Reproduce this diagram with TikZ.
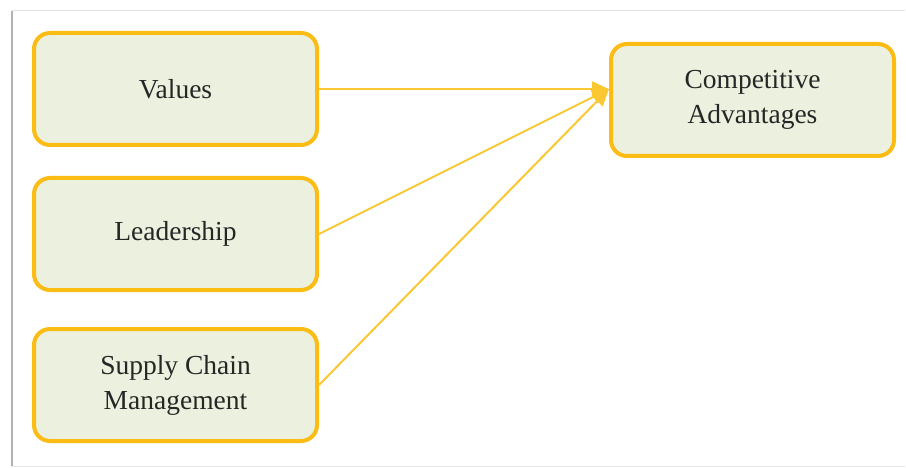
\documentclass[tikz,border=0pt]{standalone}
\usepackage{fontspec}
\setmainfont{Liberation Serif}
\usetikzlibrary{arrows.meta}
\definecolor{boxgold}{HTML}{FBBC14}
\definecolor{boxfill}{HTML}{EBF1DE}
\definecolor{linegold}{HTML}{FBC834}
\begin{document}
\begin{tikzpicture}[x=1pt,y=-1pt,
  box/.style={draw=boxgold, line width=4pt, fill=boxfill, rounded corners=16pt,
    minimum width=283pt, minimum height=112pt, align=center, inner sep=0pt,
    font=\fontsize{27.5}{35}\selectfont, text=black!85},
  link/.style={draw=linegold, line width=2pt, -{Triangle[length=17pt,width=15pt]}}]
\useasboundingbox (0,0) rectangle (906,468);
\fill[white] (0,0) rectangle (906,468);
\draw[black!12, line width=1pt] (12,11) -- (905,11);
\draw[black!10, line width=1pt] (12,466) -- (905,466);
\draw[black!30, line width=2.5pt] (12,11) -- (12,466);
\node[box] (val) at (175.5,89) {Values};
\node[box] (lead) at (175.5,234) {Leadership};
\node[box] (scm) at (175.5,385) {Supply Chain\\Management};
\node[box] (comp) at (752.5,100) {Competitive\\Advantages};
\coordinate (tip) at (609,89);
\draw[link] (val.east) -- (tip);
\draw[link] (lead.east) -- (tip);
\draw[link] (scm.east) -- (tip);
\end{tikzpicture}
\end{document}
